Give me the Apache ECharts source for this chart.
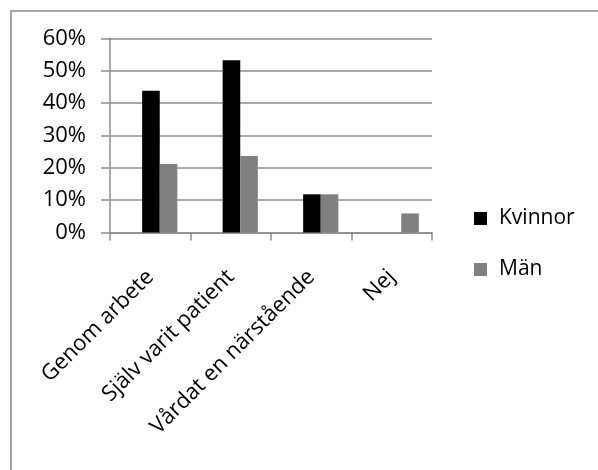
<!DOCTYPE html>
<html>
<head>
<meta charset="utf-8">
<script src="https://cdn.jsdelivr.net/npm/echarts@6/dist/echarts.min.js"></script>
<style>
  html, body { margin: 0; padding: 0; background: #ffffff; }
  #chart { width: 598px; height: 470px; }
</style>
</head>
<body>
<div id="chart"></div>
<script>
// Survey answers: share of respondents per answer, by gender
const categories = ['Genom arbete', 'Själv varit patient', 'Vårdat en närstående', 'Nej'];
const kvinnor = [0.438, 0.532, 0.118, 0];
const man = [0.212, 0.236, 0.118, 0.059];
const seriesNames = ['Kvinnor', 'Män'];
const yTicks = { min: 0, max: 0.6, interval: 0.1 };

const FONT = 'Open Sans';
const GRID_GREY = '#8c8c8c';
const pct = v => Math.round(v * 100) + '%';

const chart = echarts.init(document.getElementById('chart'), null, { renderer: 'canvas' });

chart.setOption({
  backgroundColor: '#ffffff',
  animation: false,
  textStyle: { fontFamily: FONT },
  graphic: [{
    type: 'rect',
    shape: { x: 11, y: 11, width: 620, height: 500 },
    style: { fill: 'none', stroke: GRID_GREY, lineWidth: 1.6 },
    silent: true, z: -1
  }],
  legend: {
    orient: 'vertical',
    left: 474, top: 208,
    padding: 0,
    itemWidth: 13, itemHeight: 13,
    itemGap: 30,
    icon: 'rect',
    data: seriesNames,
    textStyle: { fontFamily: FONT, fontSize: 21, color: '#000', lineHeight: 21, padding: [0, 0, 0, 7] }
  },
  // axes frame grid and the bar grid (bars sit slightly right of the tick cells)
  grid: [
    { left: 110, right: 166, top: 38.3, bottom: 237.5, containLabel: false },
    { left: 119.5, right: 156.5, top: 38.3, bottom: 237.5, containLabel: false }
  ],
  xAxis: [
    {
      type: 'category', gridIndex: 0, data: categories, boundaryGap: true,
      axisLine: { lineStyle: { color: GRID_GREY, width: 1.5 } },
      axisTick: { show: true, length: 8, lineStyle: { color: GRID_GREY, width: 1.5 } },
      axisLabel: {
        rotate: 45, margin: 41, interval: 0,
        fontFamily: FONT, fontSize: 22, color: '#000'
      }
    },
    {
      type: 'category', gridIndex: 1, data: categories, boundaryGap: true,
      show: false
    }
  ],
  yAxis: [
    {
      type: 'value', gridIndex: 0,
      min: yTicks.min, max: yTicks.max, interval: yTicks.interval,
      axisLine: { show: true, lineStyle: { color: GRID_GREY, width: 1.5 } },
      axisTick: { show: true, length: 9, lineStyle: { color: GRID_GREY, width: 1.5 } },
      splitLine: { show: true, lineStyle: { color: GRID_GREY, width: 1.5 } },
      axisLabel: { formatter: pct, margin: 24, fontFamily: FONT, fontSize: 22, color: '#000' }
    },
    {
      type: 'value', gridIndex: 1,
      min: yTicks.min, max: yTicks.max, interval: yTicks.interval,
      show: false
    }
  ],
  series: [
    {
      name: seriesNames[0], type: 'bar', xAxisIndex: 1, yAxisIndex: 1,
      data: kvinnor, barWidth: 17.6, barGap: '0%',
      itemStyle: { color: '#000000' }
    },
    {
      name: seriesNames[1], type: 'bar', xAxisIndex: 1, yAxisIndex: 1,
      data: man, barWidth: 17.6, barGap: '0%',
      itemStyle: { color: '#808080' }
    }
  ]
});
</script>
</body>
</html>
